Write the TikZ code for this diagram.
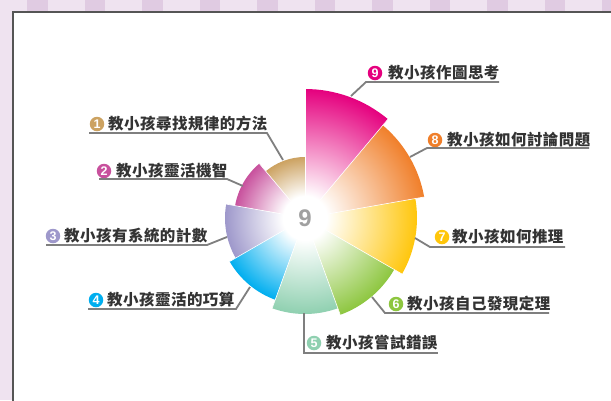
\documentclass[tikz,border=0pt]{standalone}
\usepackage{fontspec}
\newfontfamily\cjk{Noto Sans CJK TC}[LetterSpace=3]
\newfontfamily\numfont{Liberation Sans}
\definecolor{bgl}{HTML}{EFE3F0}
\definecolor{bgd}{HTML}{E0CBE2}
\definecolor{framec}{HTML}{555555}
\definecolor{linec}{HTML}{7F7F7F}
\definecolor{txtc}{HTML}{333333}
\definecolor{ninec}{HTML}{A0A0A0}
\definecolor{c1}{HTML}{CCA261}
\definecolor{c2}{HTML}{C8519D}
\definecolor{c3}{HTML}{9E98CB}
\definecolor{c4}{HTML}{00AEEF}
\definecolor{c5}{HTML}{8FD0B0}
\definecolor{c6}{HTML}{8DC63F}
\definecolor{c7}{HTML}{FFC60B}
\definecolor{c8}{HTML}{F07F2A}
\definecolor{c9}{HTML}{E5007E}
\pgfdeclareradialshading{sh1}{\pgfpoint{0bp}{0bp}}{color(0bp)=(white); color(9.0bp)=(white); color(25bp)=(c1); color(50bp)=(c1)}
\pgfdeclareradialshading{sh2}{\pgfpoint{0bp}{0bp}}{color(0bp)=(white); color(7.7bp)=(white); color(25bp)=(c2); color(50bp)=(c2)}
\pgfdeclareradialshading{sh3}{\pgfpoint{0bp}{0bp}}{color(0bp)=(white); color(6.9bp)=(white); color(25bp)=(c3); color(50bp)=(c3)}
\pgfdeclareradialshading{sh4}{\pgfpoint{0bp}{0bp}}{color(0bp)=(white); color(6.3bp)=(white); color(25bp)=(c4); color(50bp)=(c4)}
\pgfdeclareradialshading{sh5}{\pgfpoint{0bp}{0bp}}{color(0bp)=(white); color(5.7bp)=(white); color(25bp)=(c5); color(50bp)=(c5)}
\pgfdeclareradialshading{sh6}{\pgfpoint{0bp}{0bp}}{color(0bp)=(white); color(5.3bp)=(white); color(25bp)=(c6); color(50bp)=(c6)}
\pgfdeclareradialshading{sh7}{\pgfpoint{0bp}{0bp}}{color(0bp)=(white); color(4.9bp)=(white); color(25bp)=(c7); color(50bp)=(c7)}
\pgfdeclareradialshading{sh8}{\pgfpoint{0bp}{0bp}}{color(0bp)=(white); color(4.5bp)=(white); color(25bp)=(c8); color(50bp)=(c8)}
\pgfdeclareradialshading{sh9}{\pgfpoint{0bp}{0bp}}{color(0bp)=(white); color(4.3bp)=(white); color(25bp)=(c9); color(50bp)=(c9)}
\tikzset{
  numdot/.style={circle, fill=#1, inner sep=0pt, minimum size=14.5pt, text=white, font=\numfont\bfseries\fontsize{12.5}{12.5}\selectfont},
  lbltext/.style={anchor=west, inner sep=0pt, text=txtc, font=\cjk\bfseries\fontsize{15.5}{15.5}\selectfont},
  uline/.style={draw=linec, line width=1.8pt, line join=miter},
  sepline/.style={draw=white, line width=0.6pt},
}
\begin{document}
\begin{tikzpicture}[x=1pt,y=1pt]
\useasboundingbox (0,0) rectangle (611,-400);
% frame background
\fill[bgl] (0,0) rectangle (611,-400);
\foreach \i in {0,...,10} \fill[bgd] (27+57.5*\i,0) rectangle ++(20.5,-11.5);
\fill[white] (13,-12) rectangle (612,-401);
\draw[framec, line width=1.6pt] (13,-401) -- (13,-12) -- (612,-12);
% rose chart
\coordinate (C) at (305,-218);
\foreach \k/\r in {1/61,2/71,3/80,4/87,5/96,6/103,7/112,8/121,9/129}{
  \pgfmathsetmacro{\aa}{90-40*(10-\k)}
  \pgfmathsetmacro{\ab}{90-40*(9-\k)}
  \begin{scope}
    \clip (C) -- ++(\aa:\r) arc[start angle=\aa, end angle=\ab, radius=\r] -- cycle;
    \shade[shading=sh\k] (C) circle (\r);
  \end{scope}
}
\foreach \a/\r in {90/129,50/129,10/121,-30/112,-70/103,-110/96,-150/87,170/80,130/71}{
  \draw[sepline] (C) -- ++(\a:\r);
}
\node[font=\numfont\bfseries\fontsize{24}{24}\selectfont, text=ninec, inner sep=0pt] (nine) at (C) {9};
% labels
\node[numdot=c1] (n1) at (97,-124) {1};
\node[lbltext] (t1) at (108,-124) {教小孩尋找規律的方法};
\coordinate (a1) at (89,-133); \coordinate (b1) at (267,-133); \coordinate (p1) at (283,-160);
\draw[uline] (a1) -- (b1) -- (p1);

\node[numdot=c2] (n2) at (104,-171) {2};
\node[lbltext] (t2) at (116,-171) {教小孩靈活機智};
\coordinate (a2) at (99,-179); \coordinate (b2) at (227,-179); \coordinate (p2) at (243,-186);
\draw[uline] (a2) -- (b2) -- (p2);

\node[numdot=c3] (n3) at (53,-236) {3};
\node[lbltext] (t3) at (64,-236) {教小孩有系統的計數};
\coordinate (a3) at (46,-245); \coordinate (b3) at (207,-245); \coordinate (p3) at (227,-237);
\draw[uline] (a3) -- (b3) -- (p3);

\node[numdot=c4] (n4) at (96,-300) {4};
\node[lbltext] (t4) at (107,-300) {教小孩靈活的巧算};
\coordinate (a4) at (88,-309); \coordinate (b4) at (236,-309); \coordinate (p4) at (250,-287);
\draw[uline] (a4) -- (b4) -- (p4);

\node[numdot=c5] (n5) at (314,-343) {5};
\node[lbltext] (t5) at (326,-343) {教小孩嘗試錯誤};
\coordinate (a5) at (304,-353); \coordinate (b5) at (438,-353); \coordinate (p5) at (304,-313);
\draw[uline] (p5) -- (a5) -- (b5);

\node[numdot=c6] (n6) at (396,-304) {6};
\node[lbltext] (t6) at (407,-304) {教小孩自己發現定理};
\coordinate (a6) at (385,-313); \coordinate (b6) at (549,-313); \coordinate (p6) at (372,-297);
\draw[uline] (p6) -- (a6) -- (b6);

\node[numdot=c7] (n7) at (442,-237) {7};
\node[lbltext] (t7) at (452,-237) {教小孩如何推理};
\coordinate (a7) at (430,-247); \coordinate (b7) at (565,-247); \coordinate (p7) at (415,-238);
\draw[uline] (p7) -- (a7) -- (b7);

\node[numdot=c8] (n8) at (435,-140) {8};
\node[lbltext] (t8) at (447,-140) {教小孩如何討論問題};
\coordinate (a8) at (427,-148); \coordinate (b8) at (589,-148); \coordinate (p8) at (410,-157);
\draw[uline] (p8) -- (a8) -- (b8);

\node[numdot=c9] (n9) at (375,-73) {9};
\node[lbltext] (t9) at (388,-73) {教小孩作圖思考};
\coordinate (a9) at (366,-82); \coordinate (b9) at (499,-82); \coordinate (p9) at (351,-96);
\draw[uline] (p9) -- (a9) -- (b9);
\end{tikzpicture}
\end{document}
